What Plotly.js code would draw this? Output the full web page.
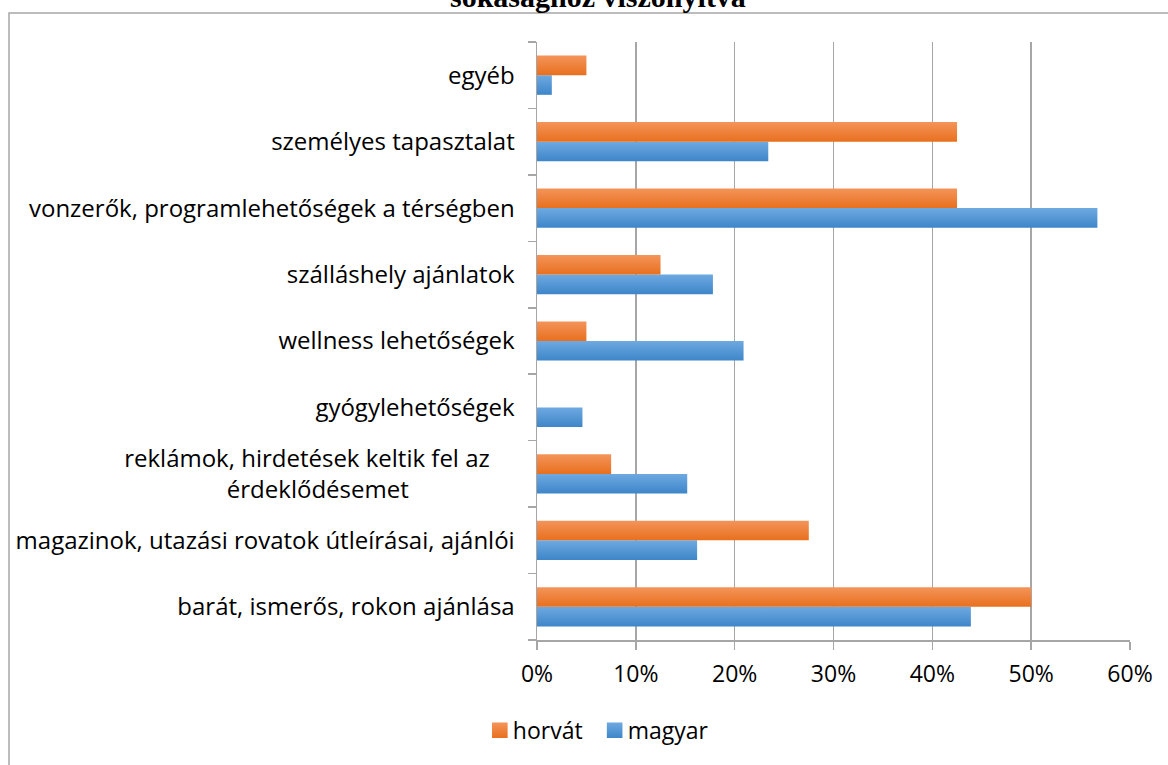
<!DOCTYPE html>
<html>
<head>
<meta charset="utf-8">
<script src="https://cdn.plot.ly/plotly-3.0.1.min.js"></script>
<style>
html,body{margin:0;padding:0;background:#fff;}
#chart{width:1168px;height:765px;}
</style>
</head>
<body>
<div id="chart"></div>
<script>
// Categories listed bottom to top
var categories = [
  "barát, ismerős, rokon ajánlása",
  "magazinok, utazási rovatok útleírásai, ajánlói",
  "reklámok, hirdetések keltik fel az\u00a0\u00a0\u00a0\u00a0<br>érdeklődésemet\u00a0\u00a0\u00a0\u00a0\u00a0\u00a0\u00a0\u00a0\u00a0\u00a0\u00a0\u00a0\u00a0\u00a0\u00a0\u00a0\u00a0",
  "gyógylehetőségek",
  "wellness lehetőségek",
  "szálláshely ajánlatok",
  "vonzerők, programlehetőségek a térségben",
  "személyes tapasztalat",
  "egyéb"
];
var magyar = [0.439, 0.162, 0.152, 0.046, 0.209, 0.178, 0.567, 0.234, 0.015];
var horvat = [0.50, 0.275, 0.075, 0.0, 0.05, 0.125, 0.425, 0.425, 0.05];
var xTickVals = [0, 0.1, 0.2, 0.3, 0.4, 0.5, 0.6];
var xTickText = ["0%", "10%", "20%", "30%", "40%", "50%", "60%"];
var titleLine = "sokasághoz viszonyítva";

var fam = "Open Sans, Noto Sans, sans-serif";
var yFont = {family: fam, size: 24, color: "#000"};
var xFont = {family: fam, size: 23, color: "#000"};
var lFont = {family: fam, size: 23, color: "#000"};

var traces = [
  {type: "bar", orientation: "h", name: "magyar", y: categories, x: magyar,
   marker: {color: "#5197D6"}, hoverinfo: "x+y"},
  {type: "bar", orientation: "h", name: "horvát", y: categories, x: horvat,
   marker: {color: "#EF7A2C"}, hoverinfo: "x+y"}
];

var layout = {
  width: 1168, height: 765,
  margin: {l: 537, r: 38, t: 42, b: 125},
  paper_bgcolor: "#fff", plot_bgcolor: "#fff",
  font: xFont,
  barmode: "group", bargap: 0.41, bargroupgap: 0,
  showlegend: true,
  legend: {orientation: "h", x: 0.095, xanchor: "center", y: -0.115, yanchor: "top",
           traceorder: "reversed", font: lFont, itemwidth: 30},
  xaxis: {range: [0, 0.6], tickvals: xTickVals, ticktext: xTickText,
          showgrid: true, gridcolor: "#A6A6A6", gridwidth: 1.5,
          showline: true, linecolor: "#A6A6A6", linewidth: 1.5,
          ticks: "outside", ticklen: 8, tickcolor: "#A6A6A6", tickwidth: 1.5,
          ticklabelstandoff: 5, zeroline: false, fixedrange: true,
          tickfont: xFont},
  yaxis: {type: "category", showgrid: false,
          showline: true, linecolor: "#A6A6A6", linewidth: 1.5,
          ticks: "outside", ticklen: 8, tickcolor: "#A6A6A6", tickwidth: 1.5,
          tickson: "boundaries", ticklabelstandoff: 16, fixedrange: true,
          tickfont: yFont},
  shapes: [
    {type: "rect", xref: "paper", yref: "paper",
     x0: (9 - 537) / 593, x1: (1180 - 537) / 593,
     y0: (640 - 780) / 598, y1: (640 - 13) / 598,
     line: {color: "#A6A6A6", width: 1.5}, fillcolor: "rgba(0,0,0,0)", layer: "below"}
  ],
  annotations: [
    {text: "<b>" + titleLine + "</b>", xref: "paper", yref: "paper",
     x: (598 - 537) / 593, xanchor: "center",
     y: (640 + 3.5) / 598, yanchor: "middle", showarrow: false,
     font: {family: "Liberation Serif, Times New Roman, serif", size: 30, color: "#000"}}
  ]
};

Plotly.newPlot("chart", traces, layout, {displayModeBar: false, staticPlot: true}).then(function(gd){
  var svg = gd.querySelector("svg.main-svg");
  var ns = "http://www.w3.org/2000/svg";
  var defs = svg.querySelector("defs") || svg.insertBefore(document.createElementNS(ns, "defs"), svg.firstChild);
  function grad(id, c1, c2){
    var g = document.createElementNS(ns, "linearGradient");
    g.setAttribute("id", id);
    g.setAttribute("x1", "0"); g.setAttribute("y1", "0");
    g.setAttribute("x2", "0"); g.setAttribute("y2", "1");
    var s1 = document.createElementNS(ns, "stop"); s1.setAttribute("offset", "0"); s1.setAttribute("stop-color", c1);
    var s2 = document.createElementNS(ns, "stop"); s2.setAttribute("offset", "1"); s2.setAttribute("stop-color", c2);
    g.appendChild(s1); g.appendChild(s2); defs.appendChild(g);
  }
  grad("gradBlue", "#6EA9E1", "#3E86C9");
  grad("gradOrange", "#F4945A", "#E8701E");
  var ids = ["gradBlue", "gradOrange"];
  gd.querySelectorAll(".barlayer .trace").forEach(function(t, i){
    t.querySelectorAll("path").forEach(function(p){ p.style.fill = "url(#" + ids[i] + ")"; });
  });
  // enlarge legend squares and give them the same gradient
  gd.querySelectorAll(".legend .traces").forEach(function(t){
    var name = t.querySelector(".legendtext").textContent;
    var id = name === "magyar" ? "gradBlue" : "gradOrange";
    t.querySelectorAll(".legendpoints path").forEach(function(p){
      var orig = p.getAttribute("transform") || "";
      p.setAttribute("transform", orig + " translate(7,0) scale(1.3)");
      p.style.fill = "url(#" + id + ")";
    });
  });
});
</script>
</body>
</html>
